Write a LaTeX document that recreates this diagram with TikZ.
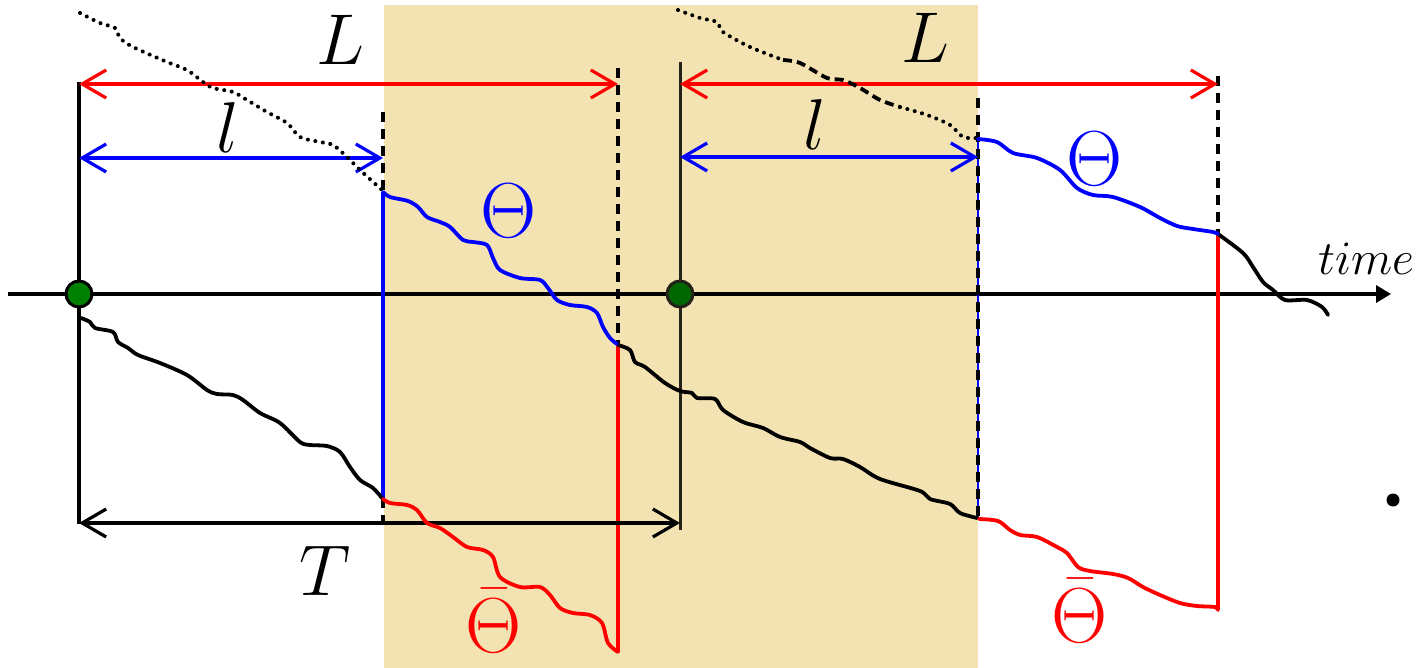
\RequirePackage{fix-cm}
\documentclass[tikz,border=0pt]{standalone}
\usetikzlibrary{arrows.meta}
\definecolor{bandcol}{RGB}{244,227,178}
\definecolor{dgreen}{RGB}{0,128,0}
\definecolor{myred}{RGB}{255,0,0}
\definecolor{myblue}{RGB}{0,0,255}
\tikzset{
  curve/.style={line width=3.8pt, line join=round, line cap=round},
  dim/.style={line width=3.2pt, {Straight Barb[length=24pt,width=28pt]}-{Straight Barb[length=24pt,width=28pt]}},
  vdash/.style={line width=3.4pt, dash pattern=on 10pt off 7pt},
  dotline/.style={line width=4pt, line cap=round, dash pattern=on 0.1pt off 7.5pt},
  dashline/.style={line width=3.8pt, dash pattern=on 9pt off 5pt},
  lbl/.style={inner sep=0pt, anchor=base, font=\fontsize{72}{80}\selectfont},
  thl/.style={inner sep=0pt, anchor=base, font=\fontsize{78}{86}\selectfont},
  dot/.style={circle, draw=black, line width=3pt, fill=dgreen, minimum size=26pt, inner sep=0pt},
}
\begin{document}
\begin{tikzpicture}[x=1pt,y=-1pt]
\useasboundingbox (0,0) rectangle (1420,668);
% shaded band
\fill[bandcol] (384,5) rectangle (978,668);

% key coordinates
\coordinate (ax0) at (8,294);
\coordinate (ax1) at (1391,294);
\coordinate (v1t) at (79,82);
\coordinate (v1b) at (79,524);
\coordinate (v2t) at (680,62);
\coordinate (v2b) at (680,530);
\coordinate (a1) at (383,112);
\coordinate (a2) at (383,192);
\coordinate (a3) at (383,498);
\coordinate (a4) at (383,532);
\coordinate (b1) at (618,68);
\coordinate (b2) at (618,345);
\coordinate (b3) at (618,652);
\coordinate (c1) at (978,98);
\coordinate (c2) at (978,139);
\coordinate (c3) at (978,518);
\coordinate (d1) at (1218,76);
\coordinate (d2) at (1218,234);
\coordinate (d3) at (1218,610);
\coordinate (L1a) at (79,84);
\coordinate (L1b) at (618,84);
\coordinate (l1a) at (79,158);
\coordinate (l1b) at (383,158);
\coordinate (L2a) at (680,84);
\coordinate (L2b) at (1218,84);
\coordinate (l2a) at (680,157);
\coordinate (l2b) at (978,157);
\coordinate (Ta) at (79,523);
\coordinate (Tb) at (680,523);

% axis
\draw[line width=3.2pt, -{Triangle[length=15pt,width=17pt]}] (ax0) -- (ax1);

% verticals
\draw[line width=3.6pt] (v1t) -- (v1b);
\draw[line width=3pt, black!85!bandcol] (v2t) -- (v2b);
\draw[vdash] (a1) -- (a2);
\draw[line width=4pt, myblue] (a2) -- (a3);
\draw[vdash] (a3) -- (a4);
\draw[vdash] (b1) -- (b2);
\draw[line width=3.6pt, myred] (b2) -- (b3);
\draw[line width=2.5pt, myblue] (c2) -- (c3);
\draw[vdash] (c1) -- (c3);
\draw[vdash] (d1) -- (d2);
\draw[line width=3.8pt, myred] (d2) -- (d3);

% dimension arrows
\draw[dim, myred] (L1a) -- (L1b);
\draw[dim, myblue] (l1a) -- (l1b);
\draw[dim, myred] (L2a) -- (L2b);
\draw[dim, myblue] (l2a) -- (l2b);
\draw[dim, black] (Ta) -- (Tb);

% dotted curves
\draw[dotline] plot[smooth, tension=0.5] coordinates {(80,13) (100,23) (115,28) (120,38) (133,47) (167,62) (187,70) (203,82) (213,88) (233,92) (247,100) (267,112) (287,123) (300,137) (320,142) (333,145) (347,157) (360,170) (382,190)};
\draw[dotline] plot[smooth, tension=0.5] coordinates {(678,10) (700,18) (717,22) (723,32) (750,47) (783,60)};
\draw[dashline] plot[smooth, tension=0.5] coordinates {(783,60) (800,63) (827,78) (843,80) (860,88) (880,100) (900,107)};
\draw[dotline] plot[smooth, tension=0.5] coordinates {(900,107) (927,115) (950,125) (963,137) (977,138)};

% black curves
\draw[curve] plot[smooth, tension=0.5] coordinates {(81,318) (90,322) (95,328) (113,332) (118,342) (128,348) (138,355) (160,363) (187,375) (207,390) (217,394) (233,395) (243,400) (260,413) (280,423) (300,442) (310,445) (327,446) (340,452) (350,467) (360,480) (373,488) (382,498)};
\draw[curve] plot[smooth, tension=0.5] coordinates {(618,345) (630,350) (635,362) (645,367) (665,383) (680,391) (692,393) (697,398) (715,399) (723,410) (743,422) (763,428) (780,437) (800,442) (810,448) (830,458) (843,459) (860,467) (880,479) (920,491) (930,499) (950,504) (960,513) (977,518)};
\draw[curve] plot[smooth, tension=0.5] coordinates {(1218,234) (1243,253) (1253,267) (1263,282) (1273,290) (1285,300) (1307,300) (1322,307) (1328,315)};

% blue curves
\draw[curve, myblue] plot[smooth, tension=0.5] coordinates {(383,192) (390,197) (408,201) (418,207) (427,217) (440,222) (450,227) (463,240) (473,242) (487,245) (493,258) (500,270) (520,278) (540,280) (548,288) (557,300) (570,305) (587,307) (597,313) (603,327) (610,338) (617,344)};
\draw[curve, myblue] plot[smooth, tension=0.5] coordinates {(978,139) (997,142) (1013,153) (1037,158) (1060,170) (1077,188) (1093,195) (1113,197) (1140,207) (1160,218) (1177,226) (1193,229) (1213,232) (1218,234)};

% red curves
\draw[curve, myred] plot[smooth, tension=0.5] coordinates {(383,499) (390,503) (407,505) (417,510) (427,523) (440,528) (453,537) (467,547) (483,550) (493,557) (500,577) (520,587) (540,587) (550,595) (560,608) (573,613) (590,615) (602,623) (608,643) (618,652)};
\draw[curve, myred] plot[smooth, tension=0.5] coordinates {(979,519) (998,521) (1010,530) (1020,535) (1037,537) (1057,547) (1067,553) (1078,567) (1090,571) (1113,574) (1128,578) (1143,587) (1160,595) (1180,603) (1197,606) (1215,607) (1218,610)};

% origin dots
\node[dot] (o1) at (79,294) {};
\node[dot, fill=dgreen!80!black, draw=black!85!bandcol] (o2) at (680,294) {};

% labels
\node[lbl] (tL1) at (340,65) {$L$};
\node[lbl] (tl1) at (228,153) {$l$};
\node[lbl] (tL2) at (925,63) {$L$};
\node[lbl] (tl2) at (815,150) {$l$};
\node[lbl] (tT) at (325,595) {$T$};
\node[thl, myblue] (th1) at (509,237) {$\Theta$};
\node[thl, myblue] (th2) at (1095,186) {$\Theta$};
\node[thl, myred] (tb1) at (494,652) {$\bar{\Theta}$};
\node[thl, myred] (tb2) at (1080,642) {$\bar{\Theta}$};
\node[inner sep=0pt, anchor=base, font=\fontsize{48}{56}\selectfont] (ttime) at (1366,274) {$time$};
\fill (1393,500) circle (6.5pt);
\end{tikzpicture}
\end{document}
